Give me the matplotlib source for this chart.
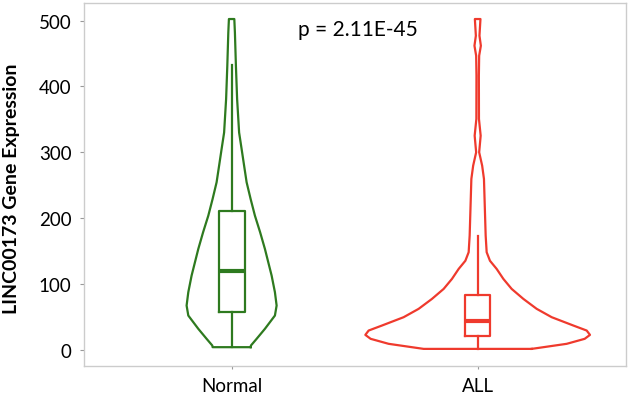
import matplotlib
matplotlib.use("Agg")
import numpy as np
import matplotlib.pyplot as plt

# ── data ───────────────────────────────────────────────────────────────────
groups = ["Normal", "ALL"]
colors = ["#2E7A1F", "#EF3A2D"]

# violin outline: expression value vs. half-width (pixels at 246 px per group)
normal_y = [3.6, 6.1, 16.3, 31.5, 51.7, 66.9, 87.2, 112.5, 153, 178.4, 203.6,
            229, 254.4, 279.6, 305, 330, 381, 431.6, 482, 502.6]
normal_hw = [19, 19.3, 25, 33.3, 43.3, 45, 43.3, 40, 33.3, 28.5, 23.3,
             19, 15, 12.5, 10, 7.5, 5.5, 4.3, 3.3, 2.7]
all_y = [1, 8.7, 16.3, 22.3, 28.9, 36.5, 49.2, 61.9, 77, 92.2, 107.4, 122.6,
         135, 148, 173.3, 213.8, 259.4, 279.6, 300, 325.2, 350.6, 416.4,
         446.8, 462, 477.2, 487.4, 502.6]
all_hw = [54, 89, 107, 112.3, 109, 95.7, 74, 59, 45.7, 34, 25.7, 19,
          12.3, 9, 8, 7.2, 6.3, 4.5, 1.5, 3.0, 1.3, 1.2,
          1.5, 3.2, 1.8, 2.2, 2.8]

# box stats: whisker low, q1, median, q3, whisker high
normal_box = [3.6, 57.8, 119, 211, 432.7]
all_box = [1, 20.4, 43, 83, 172]

p_text = "p = 2.11E-45"
ylabel = "LINC00173 Gene Expression"

FONT = ["Lato", "DejaVu Sans"]
PX = 246.0  # pixels per category step


def outline(ax, pos, ys, hws, color):
    ys = np.asarray(ys, float)
    hw = np.asarray(hws, float) / PX
    xs = np.concatenate([pos + hw, (pos - hw)[::-1], [pos + hw[0]]])
    yy = np.concatenate([ys, ys[::-1], [ys[0]]])
    ax.plot(xs, yy, color=color, lw=1.6, solid_joinstyle="round")


fig = plt.figure(figsize=(6.3, 4.02), dpi=100)
ax = fig.add_axes([0.1333, 0.0871, 0.8604, 0.903])

outline(ax, 0, normal_y, normal_hw, colors[0])
outline(ax, 1, all_y, all_hw, colors[1])

for pos, b, c, w in [(0, normal_box, colors[0], 26 / PX), (1, all_box, colors[1], 24.7 / PX)]:
    st = [dict(whislo=b[0], q1=b[1], med=b[2], q3=b[3], whishi=b[4], fliers=[])]
    ax.bxp(st, positions=[pos], widths=w, showcaps=False, showfliers=False,
           boxprops=dict(color=c, lw=1.6),
           whiskerprops=dict(color=c, lw=1.6),
           medianprops=dict(color=c, lw=3, solid_capstyle="butt"),
           manage_ticks=False)

ax.set_xlim(-0.6, 1.603)
ax.set_ylim(-25, 527)
ax.set_xticks([0, 1])
ax.set_xticklabels(groups, family=FONT, fontsize=13.5)
ax.set_yticks([0, 100, 200, 300, 400, 500])
ax.set_yticklabels(["0", "100", "200", "300", "400", "500"], family=FONT, fontsize=13.5)
ax.tick_params(axis="y", length=3, color="#999999", pad=6)
ax.tick_params(axis="x", length=2, color="#999999", pad=6)
for s in ax.spines.values():
    s.set_color("#CCCCCC")
    s.set_linewidth(1.0)

ax.text(0.515, 488, p_text, family=FONT, fontsize=15, ha="center", va="center")
fig.text(0.019, 0.53, ylabel, rotation=90, family=FONT, fontsize=14,
         fontweight="bold", ha="center", va="center")

fig.savefig("out.png", dpi=100)
